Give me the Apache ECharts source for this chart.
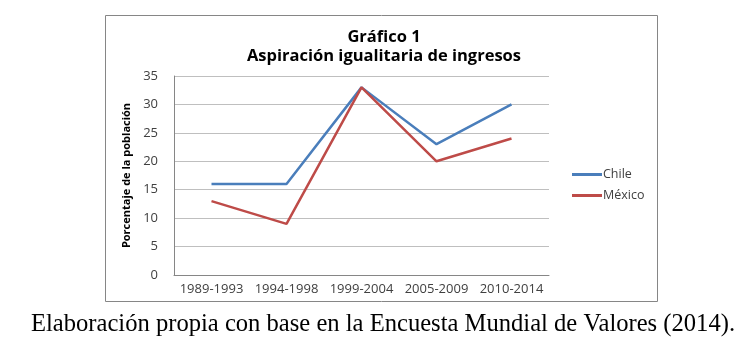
<!DOCTYPE html>
<html>
<head>
<meta charset="utf-8">
<script src="https://cdn.jsdelivr.net/npm/echarts@6/dist/echarts.min.js"></script>
<style>
  html, body { margin: 0; padding: 0; background: #fff; }
  #chart { width: 749px; height: 352px; }
</style>
</head>
<body>
<div id="chart"></div>
<script>
const periods = ["1989-1993", "1994-1998", "1999-2004", "2005-2009", "2010-2014"];
const chile = [16, 16, 33, 23, 30];
const mexico = [13, 9, 33, 20, 24];
const titleLines = ["Gráfico 1", "Aspiración igualitaria de ingresos"];
const yName = "Porcentaje de la población";
const caption = "Elaboración propia con base en la Encuesta Mundial de Valores (2014).";

const sans = "'Open Sans', sans-serif";
const chart = echarts.init(document.getElementById("chart"));

chart.setOption({
  animation: false,
  title: {
    text: titleLines.join("\n"),
    left: 384, top: 28, textAlign: "center", padding: 0,
    textStyle: { fontFamily: sans, fontSize: 16.5, fontWeight: "bold", color: "#000", lineHeight: 19 }
  },
  legend: {
    orient: "vertical", left: 572, top: 168, padding: 0,
    icon: "rect", itemWidth: 30, itemHeight: 3, itemGap: 8,
    textStyle: { fontFamily: sans, fontSize: 12.5, color: "#404040", padding: [0, 0, 0, -4] },
    data: ["Chile", "México"]
  },
  grid: { left: 174, right: 200, top: 76, bottom: 77, outerBoundsMode: "none" },
  xAxis: {
    type: "category", data: periods, boundaryGap: true,
    axisLine: { lineStyle: { color: "#868686", width: 1 } },
    axisTick: { show: false },
    axisLabel: { interval: 0, fontFamily: sans, fontSize: 13, color: "#404040", margin: 8 }
  },
  yAxis: {
    type: "value", min: 0, max: 35, interval: 5,
    name: yName, nameLocation: "middle", nameRotate: 90, nameGap: 20,
    nameTextStyle: { fontFamily: sans, fontSize: 11, fontWeight: "bold", color: "#000" },
    axisLine: { show: true, lineStyle: { color: "#868686", width: 1 } },
    axisTick: { show: false },
    splitLine: { lineStyle: { color: "#bfbfbf", width: 1 } },
    axisLabel: { fontFamily: sans, fontSize: 13, color: "#404040", margin: 16 }
  },
  series: [
    { name: "Chile", type: "line", data: chile, symbol: "none",
      lineStyle: { color: "#4a7ebb", width: 2.5 }, itemStyle: { color: "#4a7ebb" } },
    { name: "México", type: "line", data: mexico, symbol: "none",
      lineStyle: { color: "#be4b48", width: 2.5 }, itemStyle: { color: "#be4b48" } }
  ],
  graphic: [
    { type: "rect", shape: { x: 105.5, y: 15.5, width: 552, height: 286 },
      style: { fill: null, stroke: "#868686", lineWidth: 1 }, z: -1 },
    { type: "text", x: 383, y: 325,
      style: { text: caption, font: "24.6px 'Liberation Serif', serif", fill: "#000",
               textAlign: "center", textVerticalAlign: "middle" } }
  ]
});
</script>
</body>
</html>
